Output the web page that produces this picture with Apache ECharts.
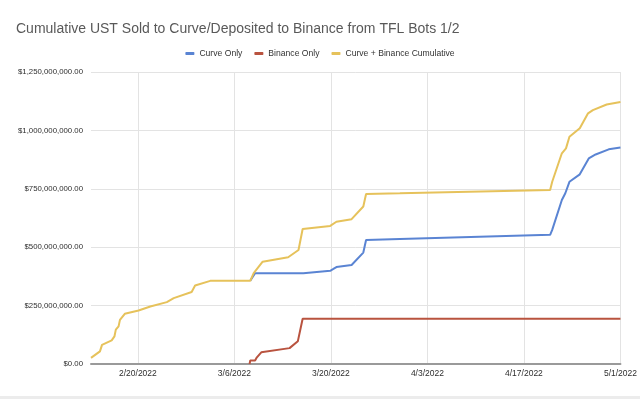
<!DOCTYPE html>
<html>
<head>
<meta charset="utf-8">
<style>
  html, body { margin: 0; padding: 0; background: #fff; }
  #chart { width: 640px; height: 399px; }
</style>
<script src="https://cdn.jsdelivr.net/npm/echarts@6/dist/echarts.min.js"></script>
</head>
<body>
<div id="chart"></div>
<script>
// x values are days since 2022-02-06, y values in millions of USD
const curveDays = [30.3, 31.0, 38.0, 41.9, 42.3, 42.8, 45.0, 46.7, 47.1, 52.0, 73.8, 74.1, 75.5, 76.0, 76.6, 78.1, 79.4, 80.4, 82.3, 84.0]
const curveValues = [356, 389, 389, 399, 406, 415, 424, 477, 531, 535, 553, 574, 702, 731, 780, 812, 880, 897, 919, 927]

const binanceDays = [30.2, 30.3, 31.0, 31.2, 31.9, 36.0, 37.2, 37.9, 84.0]
const binanceValues = [0, 15, 15, 26, 50, 68, 97, 194, 194]

const totalDays = [7.2, 8.5, 8.8, 10.2, 10.6, 10.8, 11.2, 11.4, 12.1, 14.1, 15.8, 18.2, 19.2, 21.8, 22.3, 24.5, 30.3, 30.8, 32.1, 35.8, 37.3, 37.9, 41.9, 42.8, 45.0, 46.7, 47.1, 52.0, 73.8, 74.1, 75.5, 76.1, 76.6, 78.1, 79.3, 80.0, 82.0, 84.0]
const totalValues = [26, 54, 82, 101, 118, 147, 161, 189, 215, 229, 246, 265, 282, 308, 336, 356, 356, 389, 438, 457, 488, 578, 591, 609, 620, 674, 728, 731, 745, 780, 902, 923, 973, 1009, 1073, 1087, 1111, 1122]

const xTicks = [14, 28, 42, 56, 70, 84]
const seriesNames = ['Curve Only', 'Binance Only', 'Curve + Binance Cumulative']
const colors = ['#5a84d3', '#b9533f', '#e6c25b']

const pairs = (xs, ys) => xs.map((x, i) => [x, ys[i]])

const dayLabel = (d) => {
  const dt = new Date(2022, 1, 6 + Math.round(d))
  return (dt.getMonth() + 1) + '/' + dt.getDate() + '/' + dt.getFullYear()
}

const money = (v) => '$' + (v * 1e6).toLocaleString('en-US', { minimumFractionDigits: 2, maximumFractionDigits: 2 })

const chart = echarts.init(document.getElementById('chart'))

const lineSeries = (name, data, color, z) => ({
  name,
  type: 'line',
  data,
  z,
  showSymbol: false,
  symbol: 'none',
  lineStyle: { color, width: 2 },
  itemStyle: { color },
  animation: false
})

chart.setOption({
  backgroundColor: '#fff',
  textStyle: { fontFamily: 'Liberation Sans, Arial, sans-serif' },
  title: {
    text: 'Cumulative UST Sold to Curve/Deposited to Binance from TFL Bots 1/2',
    left: 11,
    top: 17,
    textStyle: { fontSize: 14, fontWeight: 'normal', color: '#595959' }
  },
  legend: {
    top: 44,
    left: 'center',
    itemWidth: 9,
    itemHeight: 3,
    itemGap: 12,
    icon: 'roundRect',
    textStyle: { fontSize: 8.6, color: '#333' },
    data: seriesNames
  },
  grid: { left: 91, right: 19, top: 72, bottom: 35 },
  xAxis: {
    type: 'value',
    min: 7.2,
    max: 84,
    interval: 14,
    axisLine: { show: true, lineStyle: { color: '#9a9a9a', width: 2 } },
    axisTick: { show: false, customValues: xTicks },
    axisLabel: {
      customValues: xTicks,
      formatter: dayLabel,
      fontSize: 8.5,
      color: '#2e2e2e',
      margin: 5
    },
    splitLine: { show: true, lineStyle: { color: '#e3e3e3', width: 1 } }
  },
  yAxis: {
    type: 'value',
    min: 0,
    max: 1250,
    interval: 250,
    axisLine: { show: false },
    axisTick: { show: false },
    axisLabel: { formatter: money, fontSize: 7.8, color: '#2e2e2e', margin: 8 },
    splitLine: { lineStyle: { color: '#e3e3e3', width: 1 } }
  },
  graphic: [{
    type: 'rect',
    shape: { x: 0, y: 396, width: 640, height: 3 },
    style: { fill: '#ececec' }
  }],
  series: [
    lineSeries(seriesNames[0], pairs(curveDays, curveValues), colors[0], 2),
    lineSeries(seriesNames[1], pairs(binanceDays, binanceValues), colors[1], 3),
    lineSeries(seriesNames[2], pairs(totalDays, totalValues), colors[2], 4)
  ]
})
</script>
</body>
</html>
